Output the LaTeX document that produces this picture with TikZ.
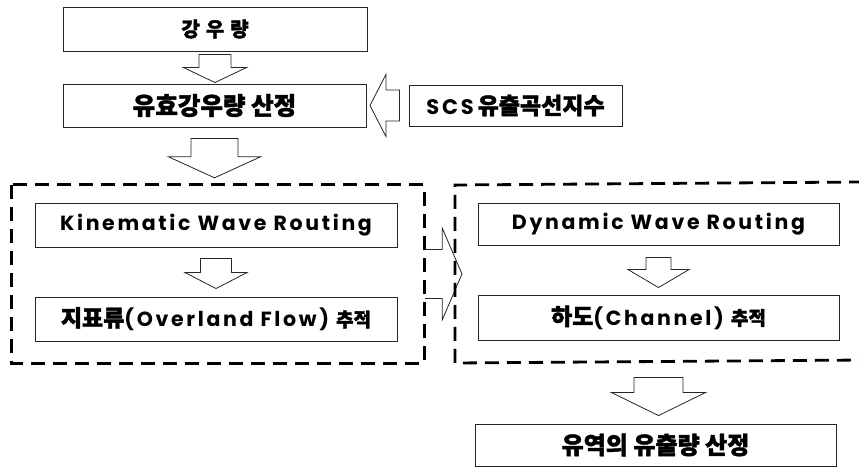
\documentclass[tikz,border=0pt]{standalone}
\usepackage{fontspec}
\setmainfont{Poppins}
\newfontfamily\kr[BoldFeatures={FakeBold=1.8}]{Noto Sans CJK KR}
\newfontfamily\lat[LetterSpace=13]{Poppins}
\usetikzlibrary{calc}
\tikzset{
  box/.style={draw=black!85, line width=0.9pt, inner sep=0pt, align=center},
  krbig/.style={font=\kr\bfseries\fontsize{24.5}{28}\selectfont},
  latbox/.style={font=\lat\bfseries\fontsize{20.5}{24}\selectfont},
  grp/.style={draw=black, line width=2.8pt, dash pattern=on 14pt off 8pt, inner sep=0pt},
  blk/.style={draw=black!85, line width=0.8pt, fill=white, line join=miter},
}
% down block arrow: from, to, top gap, tip gap, head length, stem half, head half
\newcommand\dnblock[7]{%
  \draw[blk] let \p1=(#1.south), \p2=(#2.north) in
    (\x1-#6pt,\y1-#3pt) -- (\x1+#6pt,\y1-#3pt) -- (\x1+#6pt,\y2+#4pt+#5pt)
    -- (\x1+#7pt,\y2+#4pt+#5pt) -- (\x1,\y2+#4pt) -- (\x1-#7pt,\y2+#4pt+#5pt)
    -- (\x1-#6pt,\y2+#4pt+#5pt) -- cycle;}
\begin{document}
\begin{tikzpicture}[x=1pt,y=-1pt]
\useasboundingbox (0,0) rectangle (859,468);

% boxes
\node[box, minimum width=304, minimum height=44, font=\kr\bfseries\fontsize{20}{24}\selectfont] (b1) at (215,29) {강\hspace{6pt}우\hspace{6pt}량};
\node[box, krbig, minimum width=303, minimum height=43] (b2) at (214.5,105.5) {유효강우량 산정};
\node[box, minimum width=213, minimum height=41, font=\fontsize{21}{24}\selectfont] (scs) at (515.5,105.5) {{\lat\bfseries SCS}\hspace{4pt}{\kr\bfseries\fontsize{23}{24}\selectfont 유출곡선지수}};

\node[minimum width=412, minimum height=178, inner sep=0pt] (gL) at (218,274) {};

\node[box, latbox, minimum width=362, minimum height=44] (kin) at (216,225) {Kinematic Wave Routing};
\node[box, latbox, minimum width=362, minimum height=44] (ovl) at (216,319) {{\kr\bfseries\fontsize{23}{24}\selectfont 지표류}(Overland Flow) {\kr\bfseries\fontsize{19}{24}\selectfont 추적}};
\node[box, latbox, minimum width=361, minimum height=42] (dyn) at (658.5,224) {Dynamic Wave Routing};
\node[box, latbox, minimum width=361, minimum height=45] (chn) at (658.5,317.5) {{\kr\bfseries\fontsize{23}{24}\selectfont 하도}(Channel) {\kr\bfseries\fontsize{19}{24}\selectfont 추적}};
\node[box, krbig, minimum width=361, minimum height=42, font=\kr\bfseries\fontsize{24}{28}\selectfont] (fin) at (655.5,445) {유역의 유출량 산정};

% block arrows (down)
\dnblock{b1}{b2}{3}{1}{15}{16}{31.5}
\dnblock{b2}{gL}{11}{7}{21}{23.5}{46}
\dnblock{kin}{ovl}{11}{8}{16}{15.5}{31}
\dnblock{dyn}{chn}{12}{7}{18}{12.5}{30.5}
\dnblock{chn}{fin}{37}{8}{23}{24.5}{47}

% left-pointing arrow SCS -> b2
\draw[blk] let \p1=(scs.west), \p2=(b2.east) in
  (\x1-9pt,\y1+15.5pt) -- (\x2+19.5pt,\y1+15.5pt) -- (\x2+19.5pt,\y1+31pt)
  -- (\x2+3.5pt,\y1) -- (\x2+19.5pt,\y1-31pt) -- (\x2+19.5pt,\y1-15.5pt)
  -- (\x1-9pt,\y1-15.5pt) -- cycle;

% right-pointing arrow between groups
\coordinate (gRl) at (455,274);
\draw[blk] let \p1=(gL.east), \p2=(gRl) in
  (\x1+1pt,\y1+24.5pt) -- (\x1+18pt,\y1+24.5pt) -- (\x1+18pt,\y1+46pt)
  -- (\x2+7pt,\y1) -- (\x1+18pt,\y1-46pt) -- (\x1+18pt,\y1-24.5pt)
  -- (\x1+1pt,\y1-24.5pt);

% left group border
\draw[grp] (gL.north west) rectangle (gL.south east);

% right group (open to the right edge)
\coordinate (gRtl) at (455,185);
\coordinate (gRbl) at (455,363);
\draw[grp] (863,182) -- (gRtl) -- (gRbl) -- (863,360);
\end{tikzpicture}
\end{document}
